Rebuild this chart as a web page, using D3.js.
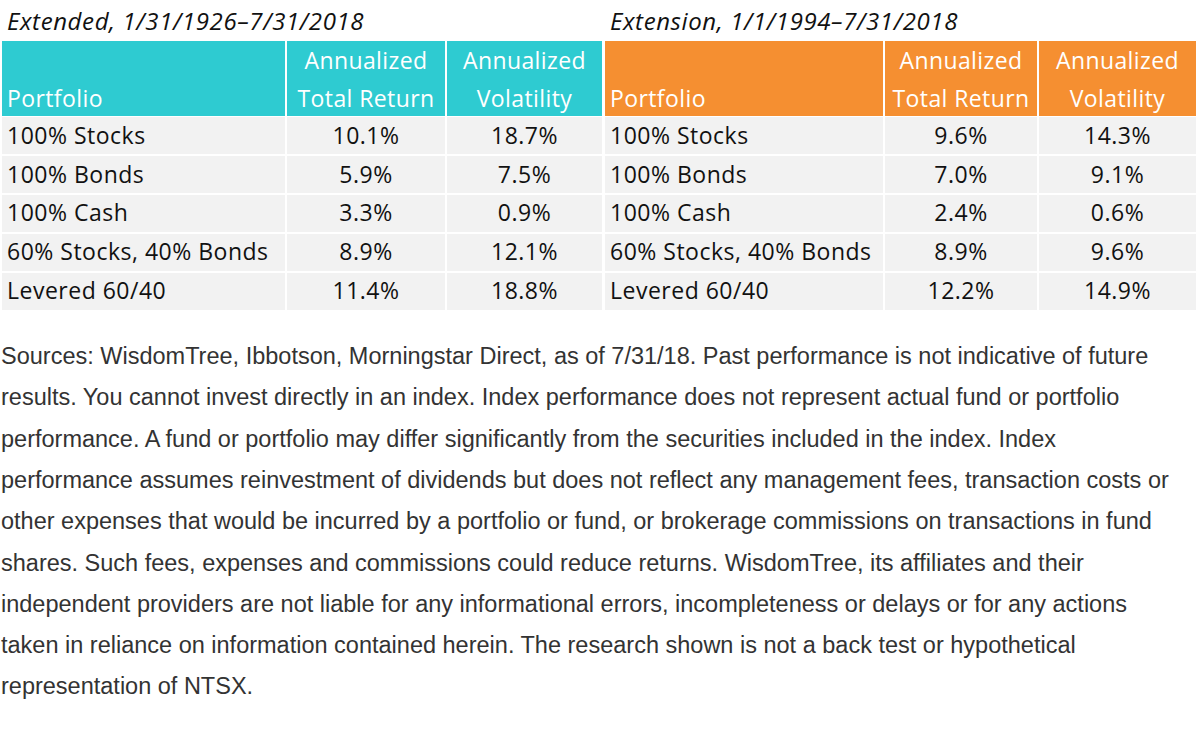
<!DOCTYPE html>
<html><head><meta charset="utf-8">
<script src="https://cdn.jsdelivr.net/npm/d3@7"></script>
<style>body{margin:0;background:#fff}</style>
</head><body><svg width="1200" height="729"></svg>
<script>
var portfolios = ['100% Stocks', '100% Bonds', '100% Cash', '60% Stocks, 40% Bonds', 'Levered 60/40'];
var extReturn = ['10.1%', '5.9%', '3.3%', '8.9%', '11.4%'];
var extVol = ['18.7%', '7.5%', '0.9%', '12.1%', '18.8%'];
var exnReturn = ['9.6%', '7.0%', '2.4%', '8.9%', '12.2%'];
var exnVol = ['14.3%', '9.1%', '0.6%', '9.6%', '14.9%'];
var titles = ['Extended, 1/31/1926\u20137/31/2018', 'Extension, 1/1/1994\u20137/31/2018'];
var footnote = [
  'Sources: WisdomTree, Ibbotson, Morningstar Direct, as of 7/31/18. Past performance is not indicative of future',
  'results. You cannot invest directly in an index. Index performance does not represent actual fund or portfolio',
  'performance. A fund or portfolio may differ significantly from the securities included in the index. Index',
  'performance assumes reinvestment of dividends but does not reflect any management fees, transaction costs or',
  'other expenses that would be incurred by a portfolio or fund, or brokerage commissions on transactions in fund',
  'shares. Such fees, expenses and commissions could reduce returns. WisdomTree, its affiliates and their',
  'independent providers are not liable for any informational errors, incompleteness or delays or for any actions',
  'taken in reliance on information contained herein. The research shown is not a back test or hypothetical',
  'representation of NTSX.'
];

var svg = d3.select('svg');
var font = "'Open Sans', sans-serif";

var y = d3.scaleBand().domain(d3.range(5)).range([117, 310]).paddingInner(0.05);

var tables = [
  {title: titles[0], color: '#2ECBD1', cols: [2, 287, 447, 604], ret: extReturn, vol: extVol},
  {title: titles[1], color: '#F58F31', cols: [605, 885, 1039, 1198], ret: exnReturn, vol: exnVol}
];

tables.forEach(function(t) {
  var g = svg.append('g');
  var c = t.cols;
  g.append('text').attr('x', c[0] + 5).attr('y', 30).attr('font-family', font)
    .attr('font-style', 'italic').attr('font-size', 24).attr('letter-spacing', 0.6)
    .attr('fill', '#111').text(t.title);

  // header cells
  for (var i = 0; i < 3; i++) {
    g.append('rect').attr('x', c[i]).attr('y', 41).attr('width', c[i + 1] - c[i] - 2)
      .attr('height', 75).attr('fill', t.color);
  }
  function ht(x, yy, s, anchor) {
    g.append('text').attr('x', x).attr('y', yy).attr('text-anchor', anchor)
      .attr('font-family', font).attr('font-size', 23).attr('letter-spacing', 0.4)
      .attr('fill', '#fff').text(s);
  }
  ht(c[0] + 5, 107, 'Portfolio', 'start');
  ht((c[1] + c[2] - 2) / 2, 69, 'Annualized', 'middle');
  ht((c[1] + c[2] - 2) / 2, 107, 'Total Return', 'middle');
  ht((c[2] + c[3] - 2) / 2, 69, 'Annualized', 'middle');
  ht((c[2] + c[3] - 2) / 2, 107, 'Volatility', 'middle');

  // body rows
  var rows = g.selectAll('g.row').data(portfolios).enter().append('g')
    .attr('transform', function(d, i) { return 'translate(0,' + y(i) + ')'; });
  [0, 1, 2].forEach(function(i) {
    rows.append('rect').attr('x', c[i]).attr('width', c[i + 1] - c[i] - 2)
      .attr('height', y.bandwidth()).attr('fill', '#F2F2F2');
  });
  var ty = y.bandwidth() / 2 + 8;
  function cell(sel, x, anchor, fn) {
    sel.append('text').attr('x', x).attr('y', ty).attr('text-anchor', anchor)
      .attr('font-family', font).attr('font-size', 23).attr('letter-spacing', 0.5)
      .attr('fill', '#111').text(fn);
  }
  cell(rows, c[0] + 5, 'start', function(d) { return d; });
  cell(rows, (c[1] + c[2] - 2) / 2, 'middle', function(d, i) { return t.ret[i]; });
  cell(rows, (c[2] + c[3] - 2) / 2, 'middle', function(d, i) { return t.vol[i]; });
});

svg.selectAll('text.foot').data(footnote).enter().append('text')
  .attr('x', 1).attr('y', function(d, i) { return 364 + i * 41.3; })
  .attr('font-family', "'Liberation Sans', Arial, sans-serif").attr('font-size', 23.5)
  .attr('fill', '#333').text(function(d) { return d; });
</script>
</body></html>
